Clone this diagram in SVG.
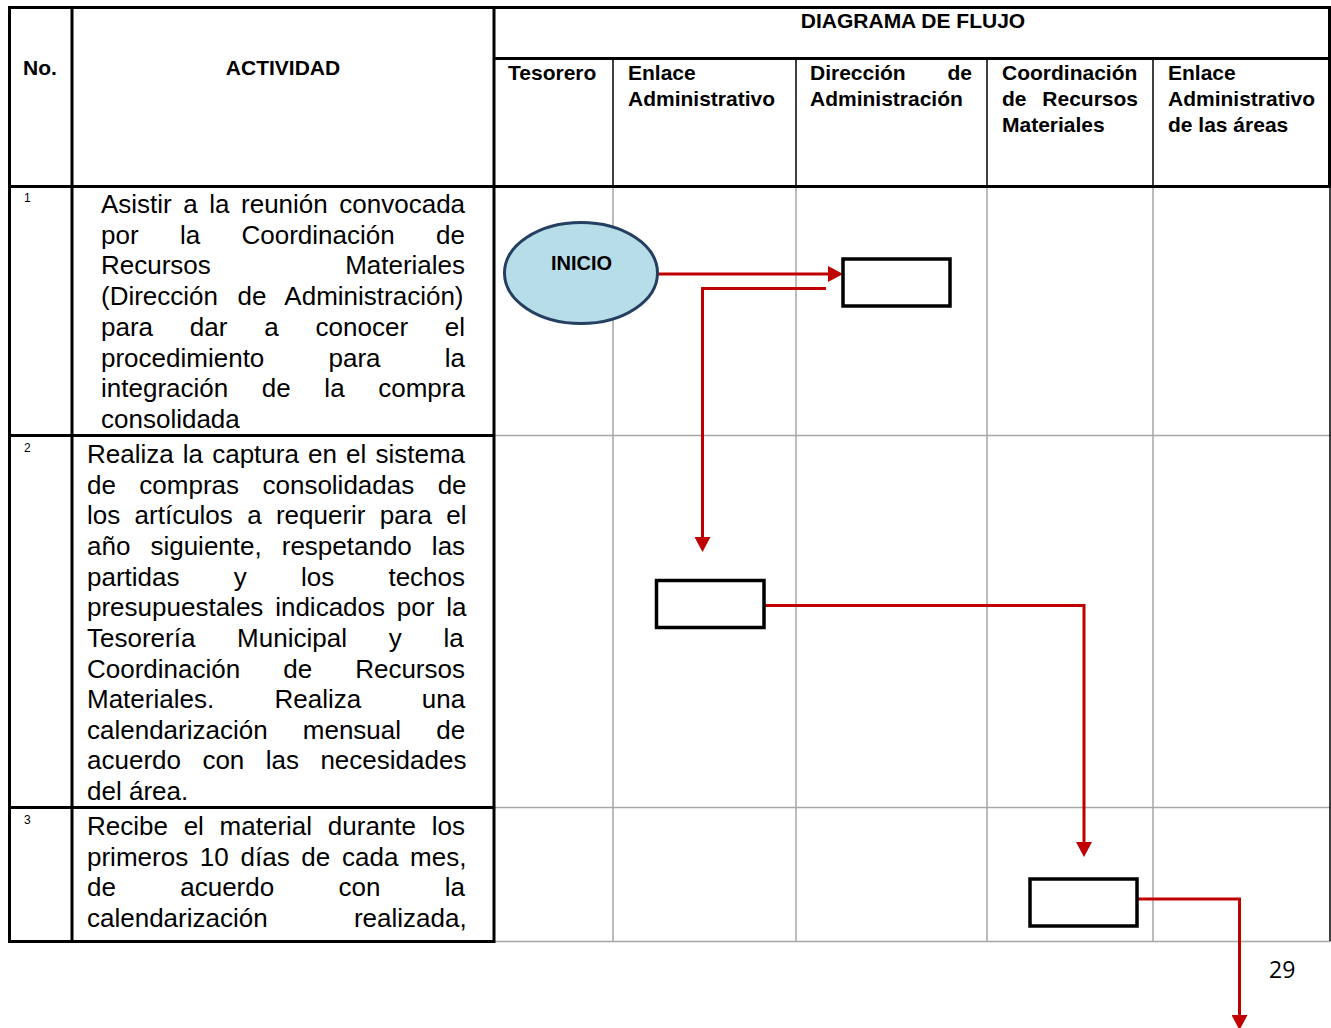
<svg xmlns="http://www.w3.org/2000/svg" width="1331" height="1028" viewBox="0 0 1331 1028">
<style>
.thick{stroke:#000;stroke-width:3;fill:none}
.thin{stroke:#000;stroke-width:1.5;fill:none}
.gray{stroke:#a6a6a6;stroke-width:1.5;fill:none}
.hd{font-family:"Liberation Sans",Arial,sans-serif;font-weight:bold;font-size:21px;fill:#000}
.bd{font-family:"Liberation Sans",Arial,sans-serif;font-size:26px;fill:#000}
.num{font-family:"Liberation Sans",Arial,sans-serif;font-size:12px;fill:#000}
.box{fill:#fff;stroke:#000;stroke-width:3.5}
.conn{fill:none;stroke:#c00000;stroke-width:3}
</style>
<defs>
<marker id="ah" viewBox="0 0 15 16" refX="0" refY="8" markerWidth="15" markerHeight="16" markerUnits="userSpaceOnUse" orient="auto">
<path d="M0,0 L15,8 L0,16 z" fill="#c00000"/>
</marker>
</defs>
<rect width="1331" height="1028" fill="#fff"/>
<g id="table">
<line class="gray" x1="613" y1="186" x2="613" y2="941"/>
<line class="gray" x1="796" y1="186" x2="796" y2="941"/>
<line class="gray" x1="987" y1="186" x2="987" y2="941"/>
<line class="gray" x1="1153" y1="186" x2="1153" y2="941"/>
<line class="gray" x1="494" y1="435.5" x2="1331" y2="435.5"/>
<line class="gray" x1="494" y1="807.5" x2="1331" y2="807.5"/>
<line class="gray" x1="494" y1="941.5" x2="1331" y2="941.5"/>
<line class="thin" x1="1330" y1="186" x2="1330" y2="941"/>
<line class="thin" x1="613" y1="58" x2="613" y2="186"/>
<line class="thin" x1="796" y1="58" x2="796" y2="186"/>
<line class="thin" x1="987" y1="58" x2="987" y2="186"/>
<line class="thin" x1="1153" y1="58" x2="1153" y2="186"/>
<line class="thick" x1="1329.5" y1="6" x2="1329.5" y2="187"/>
<line class="thick" x1="8" y1="7.5" x2="1331" y2="7.5"/>
<line class="thick" x1="494" y1="58.5" x2="1331" y2="58.5"/>
<line class="thick" x1="8" y1="186.5" x2="1331" y2="186.5"/>
<line class="thick" x1="9.5" y1="6" x2="9.5" y2="943"/>
<line class="thick" x1="72" y1="6" x2="72" y2="943"/>
<line class="thick" x1="494" y1="6" x2="494" y2="943"/>
<line class="thick" x1="8" y1="435.5" x2="495" y2="435.5"/>
<line class="thick" x1="8" y1="807.5" x2="495" y2="807.5"/>
<line class="thick" x1="8" y1="941.5" x2="495" y2="941.5"/>
</g>
<g id="header">
<text class="hd" x="23" y="75">No.</text>
<text class="hd" x="283" y="75" text-anchor="middle">ACTIVIDAD</text>
<text class="hd" x="913" y="28" text-anchor="middle">DIAGRAMA DE FLUJO</text>
<text class="hd" x="508" y="80">Tesorero</text>
<text class="hd" x="628" y="80">Enlace</text>
<text class="hd" x="628" y="106">Administrativo</text>
<text class="hd" x="810" y="80">Dirección</text>
<text class="hd" x="972" y="80" text-anchor="end">de</text>
<text class="hd" x="810" y="106">Administración</text>
<text class="hd" x="1002" y="80">Coordinación</text>
<text class="hd" x="1002" y="106">de</text>
<text class="hd" x="1138" y="106" text-anchor="end">Recursos</text>
<text class="hd" x="1002" y="132">Materiales</text>
<text class="hd" x="1168" y="80">Enlace</text>
<text class="hd" x="1168" y="106">Administrativo</text>
<text class="hd" x="1168" y="132">de las áreas</text>
</g>
<g id="row1">
<text class="num" x="24" y="202">1</text>
<text class="bd" x="101" y="213" style="word-spacing:4.3px">Asistir a la reunión convocada</text>
<text class="bd" x="101" y="243.7" style="word-spacing:34.1px">por la Coordinación de</text>
<text class="bd" x="101" y="274.4" style="word-spacing:127.1px">Recursos Materiales</text>
<text class="bd" x="101" y="305.1" style="word-spacing:12.2px">(Dirección de Administración)</text>
<text class="bd" x="101" y="335.8" style="word-spacing:29.6px">para dar a conocer el</text>
<text class="bd" x="101" y="366.5" style="word-spacing:57px">procedimiento para la</text>
<text class="bd" x="101" y="397.2" style="word-spacing:26.4px">integración de la compra</text>
<text class="bd" x="101" y="427.9">consolidada</text>
</g>
<g id="row2">
<text class="num" x="24" y="452">2</text>
<text class="bd" x="87" y="463" style="word-spacing:1.9px">Realiza la captura en el sistema</text>
<text class="bd" x="87" y="493.6" style="word-spacing:16.2px">de compras consolidadas de</text>
<text class="bd" x="87" y="524.3" style="word-spacing:7.1px">los artículos a requerir para el</text>
<text class="bd" x="87" y="554.9" style="word-spacing:12.8px">año siguiente, respetando las</text>
<text class="bd" x="87" y="585.6" style="word-spacing:47px">partidas y los techos</text>
<text class="bd" x="87" y="616.2" style="word-spacing:4.6px">presupuestales indicados por la</text>
<text class="bd" x="87" y="646.8" style="word-spacing:34.5px">Tesorería Municipal y la</text>
<text class="bd" x="87" y="677.5" style="word-spacing:35.8px">Coordinación de Recursos</text>
<text class="bd" x="87" y="708.1" style="word-spacing:53.2px">Materiales. Realiza una</text>
<text class="bd" x="87" y="738.8" style="word-spacing:27.9px">calendarización mensual de</text>
<text class="bd" x="87" y="769.4" style="word-spacing:14.2px">acuerdo con las necesidades</text>
<text class="bd" x="87" y="800">del área.</text>
</g>
<g id="row3">
<text class="num" x="24" y="824">3</text>
<text class="bd" x="87" y="835" style="word-spacing:8.5px">Recibe el material durante los</text>
<text class="bd" x="87" y="865.7" style="word-spacing:4.5px">primeros 10 días de cada mes,</text>
<text class="bd" x="87" y="896.3" style="word-spacing:57.1px">de acuerdo con la</text>
<text class="bd" x="87" y="927" style="word-spacing:79px">calendarización realizada,</text>
</g>
<g id="connectors">
<path class="conn" d="M658,274 H828" marker-end="url(#ah)"/>
<path class="conn" d="M826,288.5 H702.5 V537" marker-end="url(#ah)"/>
<path class="conn" d="M764,605.5 H1084 V842" marker-end="url(#ah)"/>
<path class="conn" d="M1137,899 H1239.5 V1015" marker-end="url(#ah)"/>
</g>
<g id="inicio">
<ellipse cx="581" cy="273" rx="76.5" ry="50.5" fill="#b7dde8" stroke="#243f60" stroke-width="3"/>
<text x="581.5" y="270" text-anchor="middle" style="font-family:'Liberation Sans',Arial,sans-serif;font-weight:bold;font-size:20px">INICIO</text>
</g>
<g id="box1"><rect class="box" x="843" y="259" width="107" height="47"/></g>
<g id="box2"><rect class="box" x="656.5" y="580.5" width="107.5" height="47"/></g>
<g id="box3"><rect class="box" x="1030" y="879" width="107" height="47"/></g>
<g id="page"><text x="1269" y="978" style="font-family:'Open Sans','Liberation Sans',sans-serif;font-size:23px">29</text></g>
</svg>
